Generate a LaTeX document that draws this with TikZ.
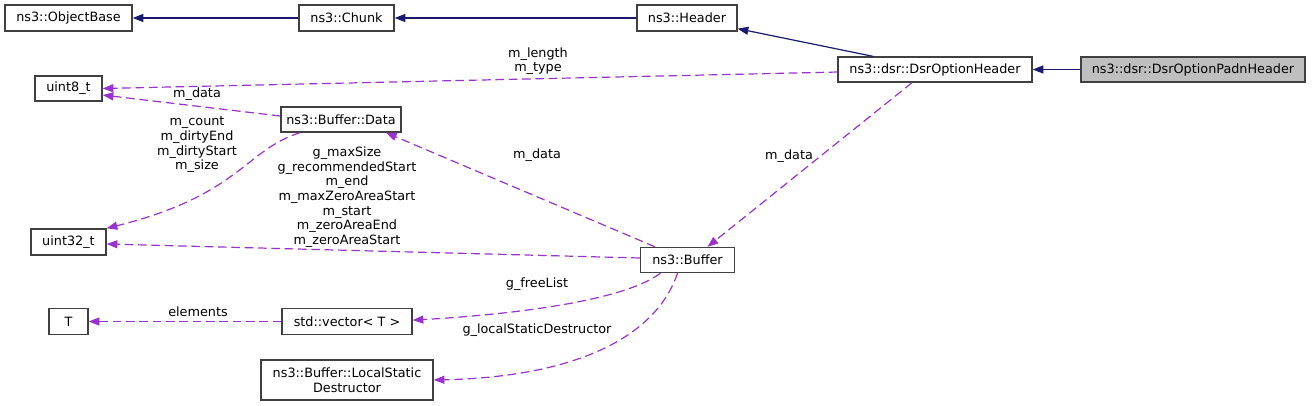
\documentclass[tikz,border=0pt]{standalone}
\usepackage{fontspec}
\setmainfont{DejaVu Sans}
\usetikzlibrary{arrows.meta}
\definecolor{navy}{HTML}{191970}
\definecolor{orch}{HTML}{9A32CD}
\definecolor{padngray}{HTML}{BFBFBF}
\definecolor{boxline}{HTML}{404040}
\begin{document}
\begin{tikzpicture}[x=0.75pt,y=-0.75pt,
  box/.style={draw=boxline, line width=1pt, fill=white, inner sep=0pt, font=\fontsize{9.6}{11}\selectfont, align=center},
  bx/.style 2 args={minimum width=#1*0.75pt, minimum height=#2*0.75pt},
  lbl/.style={inner sep=0pt, font=\fontsize{9.6}{11}\selectfont, align=center},
  inh/.style={draw=navy, line width=0.9pt, -{Triangle[length=8pt,width=6pt]}},
  use/.style={draw=orch, line width=0.9pt, dash pattern=on 6.5pt off 3.5pt, -{Triangle[length=8pt,width=6pt]}}]
\useasboundingbox (0,0) rectangle (1312,406);
\fill[white] (0,0) rectangle (1312,406);
% usage edges first (drawn under boxes)
\node[box,bx={127}{26}] (ob) at (68.5,18) {ns3::ObjectBase};
\node[box,bx={95}{26}] (chunk) at (346.5,18) {ns3::Chunk};
\node[box,bx={100}{26}] (header) at (687,18) {ns3::Header};
\node[box,bx={194}{25}] (doh) at (935,69.5) {ns3::dsr::DsrOptionHeader};
\node[box,bx={224}{25},fill=padngray] (padn) at (1193,69.5) {ns3::dsr::DsrOptionPadnHeader};
\node[box,bx={67}{25}] (u8) at (68.5,88.5) {uint8\_t};
\node[box,bx={120}{25}] (data) at (341,119.5) {ns3::Buffer::Data};
\node[box,bx={75}{26}] (u32) at (68.5,242) {uint32\_t};
\node[box,bx={94}{25}] (buf) at (687.5,260) {ns3::Buffer};
\node[box,bx={39}{26}] (T) at (68.5,321.5) {T};
\node[box,bx={130}{26}] (vec) at (347,321.5) {std::vector< T >};
\node[box,bx={172}{40}] (lsd) at (347,380) {ns3::Buffer::LocalStatic\\Destructor};
% inheritance
\draw[inh] (chunk.west) -- (ob.east);
\draw[inh] (header.west) -- (chunk.east);
\draw[inh] ([xshift=-62*0.75pt]doh.north) -- ([yshift=2.25pt]header.south east);
\draw[inh] (padn.west) -- (doh.east);
% usage
\draw[use] ([yshift=-1.9pt]doh.west) -- (u8.east);
\draw[use] ([yshift=2.6pt]data.west) -- ([yshift=-4.9pt]u8.east);
\draw[use] ([xshift=-30.75pt]data.south) .. controls (245,150) and (240,195) .. (u32.north east);
\draw[use] ([xshift=-32.5*0.75pt]buf.north) -- ([xshift=45*0.75pt]data.south);
\draw[use] ([xshift=-23*0.75pt]doh.south) -- ([xshift=20*0.75pt]buf.north);
\draw[use] ([yshift=1.5pt]buf.west) -- ([yshift=-1.5pt]u32.east);
\draw[use] ([xshift=-27*0.75pt]buf.south) .. controls (625,300) and (520,314) .. ([yshift=1pt]vec.east);
\draw[use] (vec.west) -- (T.east);
\draw[use] ([xshift=-10*0.75pt]buf.south) .. controls (655,340) and (570,377) .. (lsd.east);
% labels
\node[lbl] (l1) at (538,61) {m\_length\\m\_type};
\node[lbl] (l2) at (197,94) {m\_data};
\node[lbl] (l3) at (197,145) {m\_count\\m\_dirtyEnd\\m\_dirtyStart\\m\_size};
\node[lbl] (l4) at (347,197) {g\_maxSize\\g\_recommendedStart\\m\_end\\m\_maxZeroAreaStart\\m\_start\\m\_zeroAreaEnd\\m\_zeroAreaStart};
\node[lbl] (l5) at (537,155) {m\_data};
\node[lbl] (l6) at (789,156) {m\_data};
\node[lbl] (l7) at (537,284) {g\_freeList};
\node[lbl] (l8) at (198,312) {elements};
\node[lbl] (l9) at (537,330) {g\_localStaticDestructor};
\end{tikzpicture}
\end{document}
